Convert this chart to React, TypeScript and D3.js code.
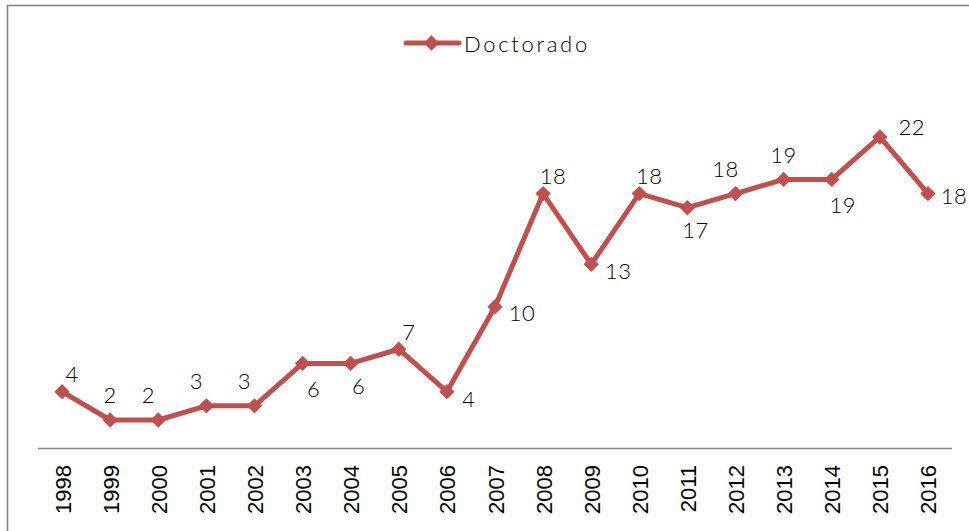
import React from "react";
import * as d3 from "d3";

// Doctorado graduates per year
const years: string[] = [
  "1998", "1999", "2000", "2001", "2002", "2003", "2004", "2005", "2006", "2007",
  "2008", "2009", "2010", "2011", "2012", "2013", "2014", "2015", "2016",
];
const doctorado: number[] = [4, 2, 2, 3, 3, 6, 6, 7, 4, 10, 18, 13, 18, 17, 18, 19, 19, 22, 18];
const seriesName = "Doctorado";

// Where each value label sits relative to its point
const labelPlacement: string[] = [
  "upRight", "up", "upLeft", "upLeft", "upLeft", "downRight", "down", "upRight", "nearRight", "right",
  "upRight", "right", "upRight", "down", "upLeft", "up", "downRight", "farRightUp", "edgeRight",
];

const W = 969;
const H = 531;
const COLOR = "#C0504D";
const AXIS = "#868686";
const LABEL_FONT = "'Century Gothic', Lato, 'DejaVu Sans', sans-serif";
const TICK_FONT = "'Liberation Sans', Arial, sans-serif";

const offsets: Record<string, [number, number]> = {
  up: [0, -25],
  upRight: [10, -18],
  upLeft: [-10, -25],
  down: [8, 22],
  downRight: [11, 25],
  nearRight: [22, 7],
  right: [27, 6],
  edgeRight: [26, 2],
  farRightUp: [32, -10],
};

export default function App() {
  const x = d3.scaleBand<string>().domain(years).range([38, 952]);
  const y = d3.scaleLinear().domain([0, 25]).range([448.3, 94.5]);
  const cx = (d: string) => (x(d) ?? 0) + x.bandwidth() / 2;

  const line = d3
    .line<number>()
    .x((_, i) => cx(years[i]))
    .y((v) => y(v));

  const diamond = d3.symbol().type(d3.symbolDiamond2).size(150)();

  const legendY = 43;

  return (
    <svg
      width={W}
      height={H}
      style={{ position: "fixed", left: 0, top: 0, background: "#fff" }}
    >
      {/* chart frame */}
      <rect x={7.5} y={5.5} width={W + 20} height={H + 20} fill="none" stroke={AXIS} strokeWidth={1.6} />

      {/* legend */}
      <g>
        <line x1={406} x2={459} y1={legendY} y2={legendY} stroke={COLOR} strokeWidth={5} strokeLinecap="round" />
        <path d={diamond ?? ""} transform={`translate(431.5,${legendY})`} fill={COLOR} />
        <text
          x={464}
          y={legendY}
          dominantBaseline="central"
          fontFamily={LABEL_FONT}
          fontWeight={300}
          fontSize={22}
          letterSpacing={2.7}
          fill="#000"
        >
          {seriesName}
        </text>
      </g>

      {/* category axis */}
      <line x1={38} x2={952} y1={448.5} y2={448.5} stroke={AXIS} strokeWidth={1.6} />
      {years.map((yr) => (
        <text
          key={yr}
          transform={`translate(${cx(yr) + 1},${465}) rotate(-90)`}
          textAnchor="end"
          dominantBaseline="central"
          fontFamily={TICK_FONT}
          fontSize={22}
          fill="#000"
        >
          {yr}
        </text>
      ))}

      {/* series line */}
      <path d={line(doctorado) ?? ""} fill="none" stroke={COLOR} strokeWidth={5} strokeLinejoin="round" />
      {doctorado.map((v, i) => (
        <path key={i} d={diamond ?? ""} transform={`translate(${cx(years[i])},${y(v)})`} fill={COLOR} />
      ))}

      {/* value labels */}
      {doctorado.map((v, i) => {
        const [dx, dy] = offsets[labelPlacement[i]];
        return (
          <text
            key={i}
            x={cx(years[i]) + dx}
            y={y(v) + dy}
            textAnchor="middle"
            dominantBaseline="central"
            fontFamily={LABEL_FONT}
            fontWeight={300}
            fontSize={22}
            letterSpacing={0.5}
            fill="#000"
          >
            {v}
          </text>
        );
      })}
    </svg>
  );
}
